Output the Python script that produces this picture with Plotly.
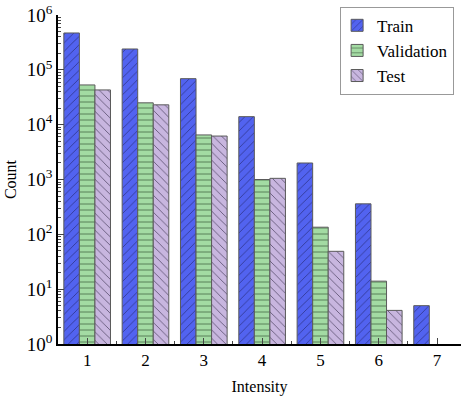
import plotly.graph_objects as go

intensity = [1, 2, 3, 4, 5, 6, 7]
train = [470000, 240000, 69000, 14000, 2000, 360, 5]
validation = [53000, 25000, 6500, 1000, 135, 14, None]
test = [43000, 23000, 6200, 1050, 49, 4.1, None]

series = [
    ("Train", train, "#5263F0", "/", "#2a2f80"),
    ("Validation", validation, "#A3DBA3", "-", "#3a5a3a"),
    ("Test", test, "#C8B6DF", "\\", "#4a4060"),
]

fig = go.Figure()
for name, vals, color, shape, fg in series:
    fig.add_trace(go.Bar(
        x=intensity, y=vals, name=name,
        marker=dict(color=color, line=dict(color="#5a5a5a", width=1),
                    pattern=dict(shape=shape, fgcolor=fg, size=6, solidity=0.15, fgopacity=0.8)),
    ))

font = "Times New Roman, Liberation Serif, serif"
minor_y = [m * 10 ** e for e in range(0, 6) for m in range(2, 10)]

fig.update_layout(
    width=461, height=397,
    margin=dict(l=58, r=0, t=15, b=53),
    paper_bgcolor="white", plot_bgcolor="white",
    barmode="group", bargap=0.2, bargroupgap=0,
    font=dict(family=font, size=16, color="black"),
    legend=dict(x=0.7, y=1.025, xanchor="left", yanchor="top",
                bgcolor="white", bordercolor="#999", borderwidth=1,
                font=dict(size=17, family=font), itemwidth=30, tracegroupgap=0,
                indentation=-4),
    xaxis=dict(range=[0.5, 7.41], tickvals=intensity, ticks="inside", ticklen=6,
               tickwidth=1, showline=True, linecolor="black", linewidth=1.5,
               showgrid=False, zeroline=False,
               minor=dict(tickvals=[1.5, 2.5, 3.5, 4.5, 5.5, 6.5], ticks="inside", ticklen=3, tickwidth=1),
               title=dict(text="Intensity", font=dict(size=16, family=font), standoff=12),
               tickfont=dict(size=17, family=font)),
    yaxis=dict(type="log", range=[0, 6], tickvals=[10 ** e for e in range(7)],
               ticktext=["10<sup>%d</sup>" % e for e in range(7)],
               ticks="inside", ticklen=6, tickwidth=1,
               showline=True, linecolor="black", linewidth=1.5,
               showgrid=False, zeroline=False,
               minor=dict(tickvals=minor_y, ticks="inside", ticklen=3, tickwidth=1),
               title=dict(text="Count", font=dict(size=16, family=font), standoff=6),
               tickfont=dict(size=19, family=font)),
)

fig.add_annotation(text="(g)", xref="paper", yref="paper", x=-0.025, y=1.035,
                   xanchor="center", yanchor="bottom", showarrow=False,
                   font=dict(size=18, family=font))

fig.write_html("out.html")
